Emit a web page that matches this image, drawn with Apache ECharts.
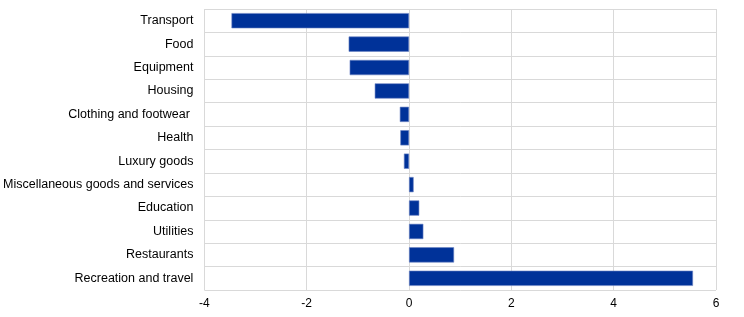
<!DOCTYPE html>
<html><head><meta charset="utf-8">
<script src="https://cdn.jsdelivr.net/npm/echarts@6/dist/echarts.min.js"></script>
<style>html,body{margin:0;padding:0;background:#fff}#c{width:744px;height:317px}</style>
</head><body><div id="c"></div>
<script>
const categories = ["Transport","Food","Equipment","Housing","Clothing and footwear ","Health","Luxury goods","Miscellaneous goods and services","Education","Utilities","Restaurants","Recreation and travel"];
const values = [-3.47,-1.18,-1.16,-0.67,-0.18,-0.17,-0.1,0.09,0.2,0.28,0.88,5.55];
const xTicks = {min:-4, max:6, interval:2};

const chart = echarts.init(document.getElementById('c'), null, {renderer:'canvas'});
chart.setOption({
  animation:false,
  grid:{left:204, right:28, top:9, bottom:27, containLabel:false},
  xAxis:{type:'value', min:xTicks.min, max:xTicks.max, interval:xTicks.interval,
    axisLine:{show:false}, axisTick:{show:false},
    axisLabel:{color:'#000', fontFamily:'Liberation Sans, Arial', fontSize:12, margin:8},
    splitLine:{show:true, lineStyle:{color:'#d9d9d9', width:1}}},
  yAxis:{type:'category', data:categories, inverse:true,
    axisLine:{show:false}, axisTick:{show:false},
    axisLabel:{color:'#000', fontFamily:'Liberation Sans, Arial', fontSize:12.5, margin:11},
    splitLine:{show:true, interval:0, lineStyle:{color:'#d9d9d9', width:1}}},
  series:[{type:'bar', data:values, barCategoryGap:'35%',
    itemStyle:{color:'#003299', borderColor:'#6b84c4', borderWidth:0.6}}]
});
</script></body></html>
